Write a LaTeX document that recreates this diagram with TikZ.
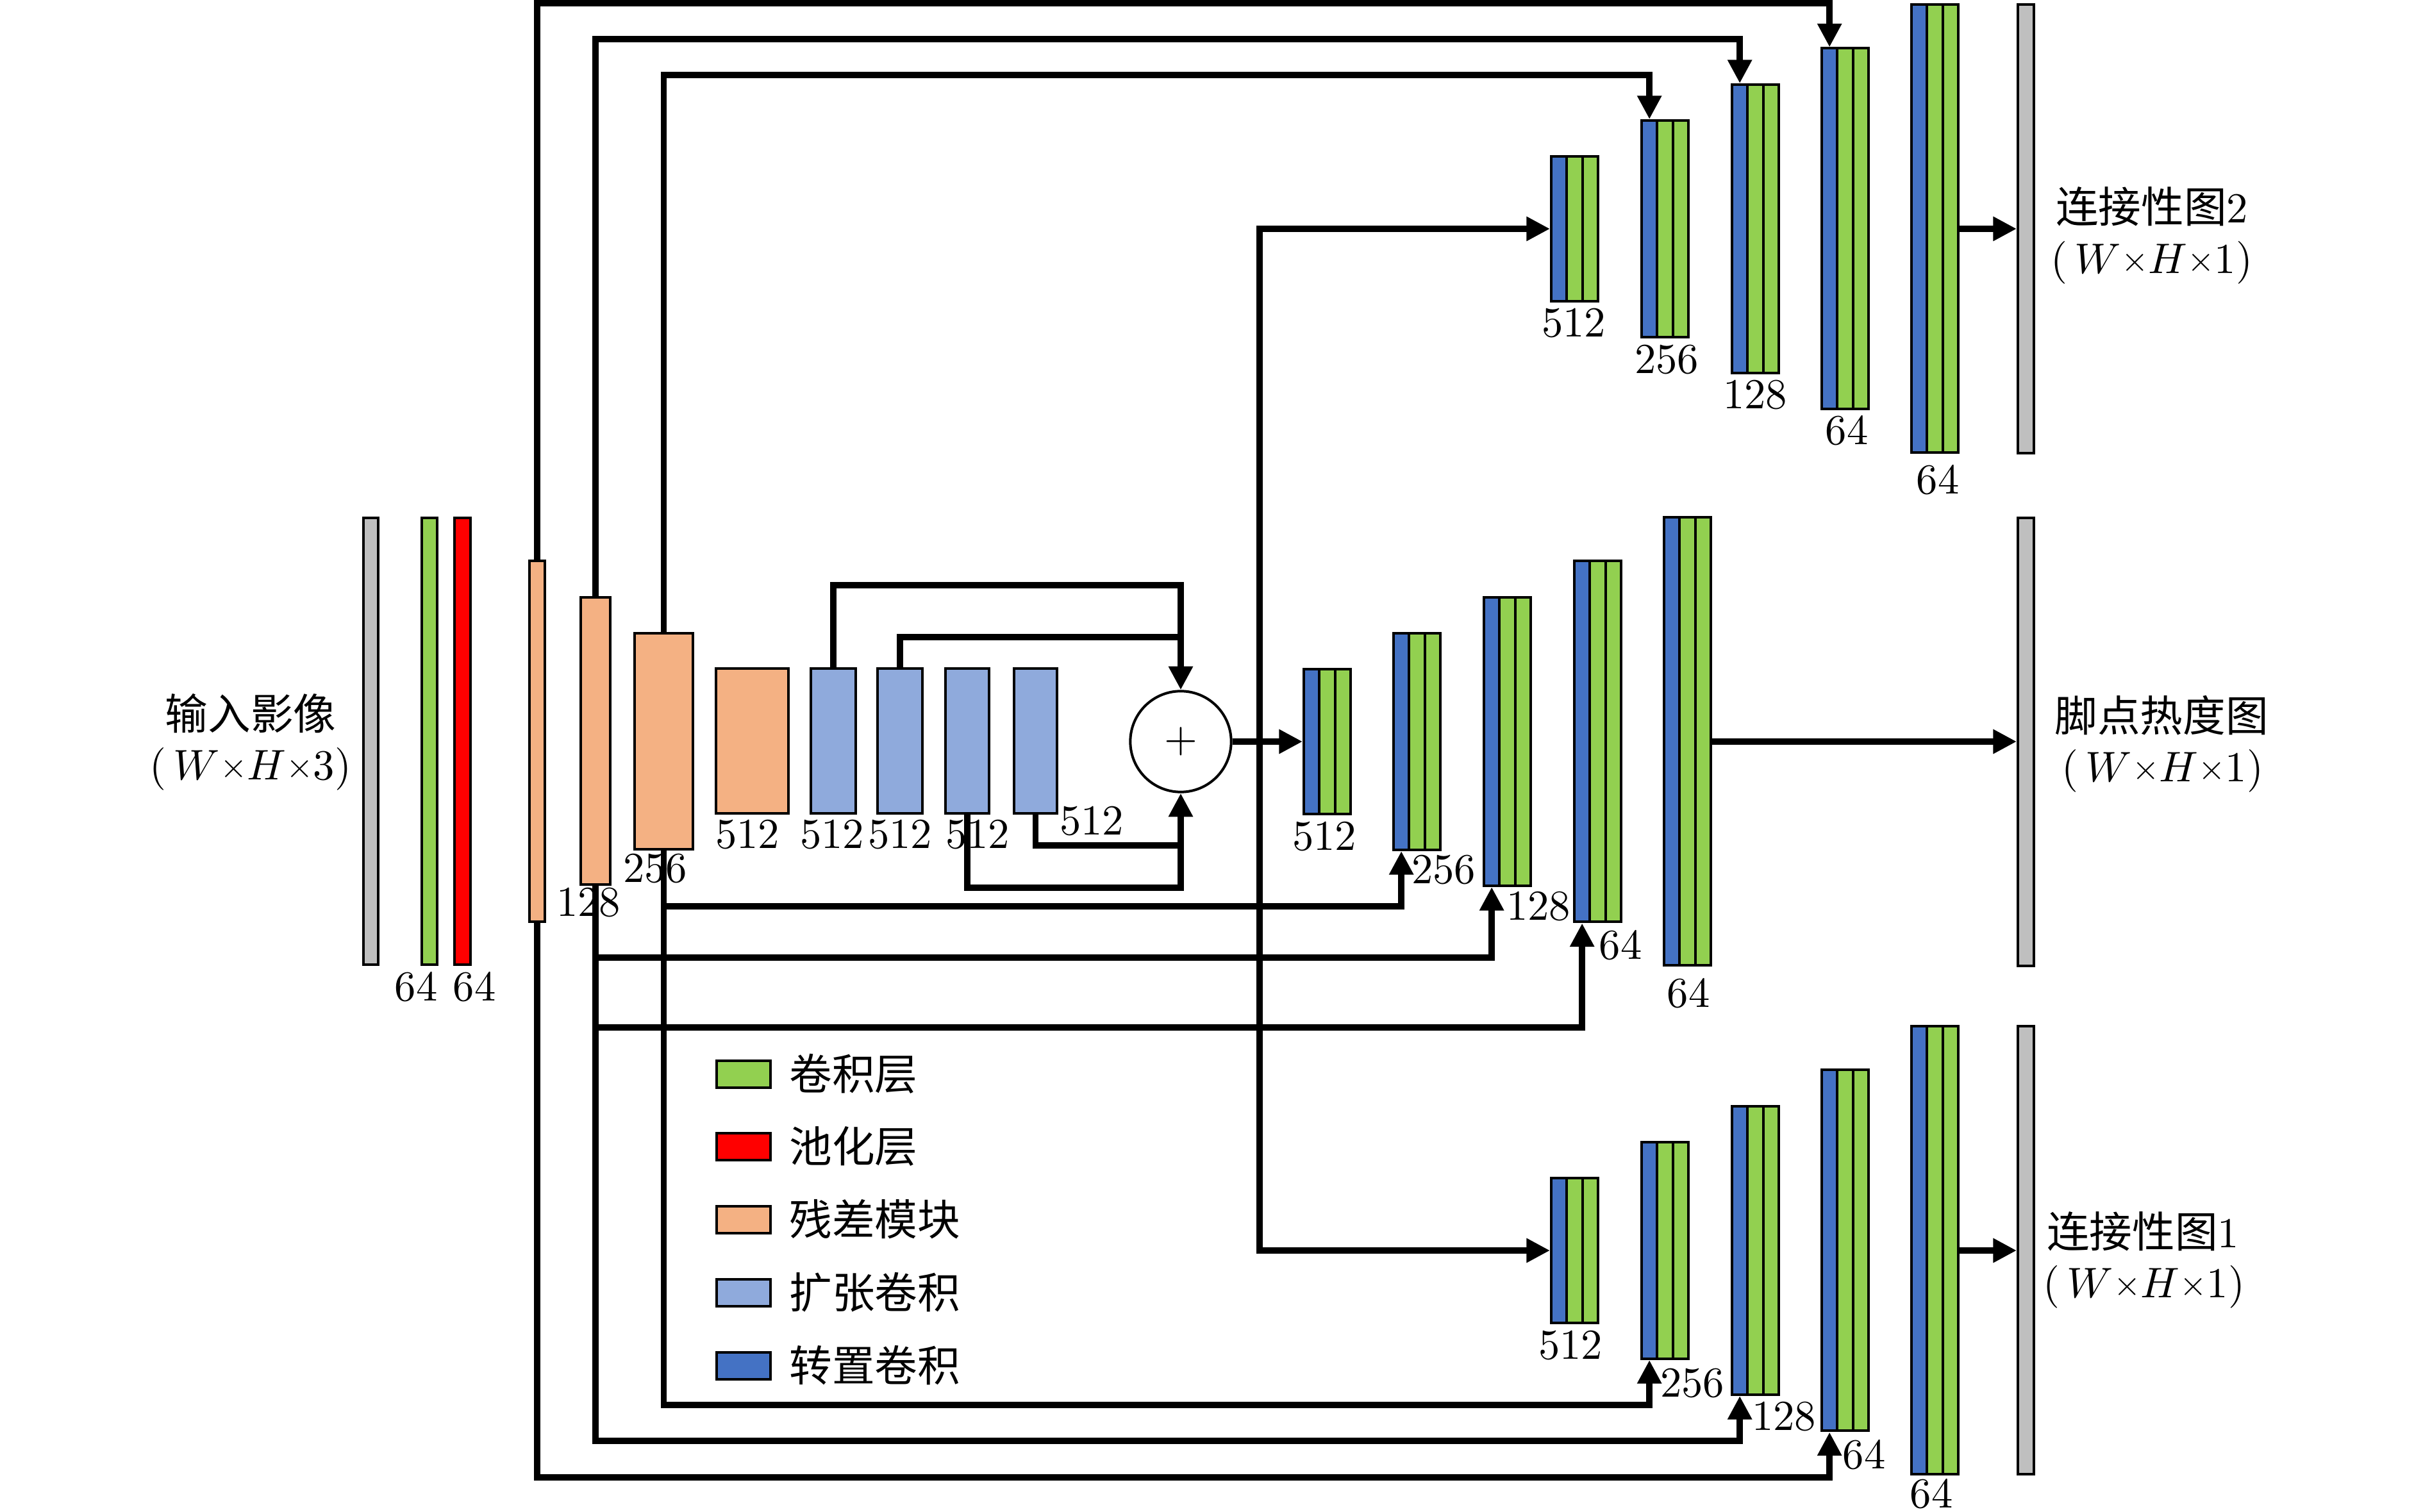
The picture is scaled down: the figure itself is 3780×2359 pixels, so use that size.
\documentclass[tikz,border=0pt]{standalone}
\usepackage{fontspec}
\newfontfamily\cjk{Noto Sans CJK SC}
\usetikzlibrary{arrows.meta,fit}
\definecolor{cgreen}{RGB}{146,208,80}
\definecolor{cred}{RGB}{255,0,0}
\definecolor{corange}{RGB}{244,177,131}
\definecolor{clblue}{RGB}{143,170,220}
\definecolor{cdblue}{RGB}{68,114,196}
\definecolor{cgrey}{RGB}{191,191,191}
\tikzset{
  lay/.style={draw=black,line width=0.6pt,inner sep=0pt},
  conn/.style={line width=1.43pt},
  arr/.style={conn,-{Triangle[length=5.5pt,width=5.4pt]}},
  num/.style={inner sep=0pt,font=\fontsize{10}{12}\selectfont},
  lbl/.style={inner sep=0pt,anchor=base,font=\fontsize{10}{12}\selectfont},
}
\newcommand\smtimes{\mathord{\raisebox{0.5pt}{\scalebox{0.82}{$\times$}}}}
\newcommand\dimtext[1]{$(\,W\smtimes H\smtimes #1)$}
% decoder block: name, left x, centre y, half height
\newcommand\deco[4]{%
  \pgfmathsetmacro\dcA{#2}\pgfmathsetmacro\dcB{#2+24.3}%
  \pgfmathsetmacro\dcC{#2+48.7}\pgfmathsetmacro\dcD{#2+73}%
  \pgfmathsetmacro\dcT{#3-#4}\pgfmathsetmacro\dcU{#3+#4}%
  \node[lay,fill=cdblue,fit={(\dcA,\dcT)(\dcB,\dcU)}] (#1-b) {};
  \node[lay,fill=cgreen,fit={(\dcB,\dcT)(\dcC,\dcU)}] (#1-g) {};
  \node[lay,fill=cgreen,fit={(\dcC,\dcT)(\dcD,\dcU)}] (#1-h) {};
  \node[inner sep=0pt,outer sep=0.3pt,fit={(\dcA,\dcT)(\dcD,\dcU)}] (#1) {};
}
\begin{document}
\begin{tikzpicture}[x={(0.15pt,0)},y={(0,-0.15pt)}]
\useasboundingbox (0,0) rectangle (3780,2359);

% ---------- encoder ----------
\node[lay,fill=cgrey,fit={(567,808)(590,1505)}] (inp) {};
\node[lay,fill=cgreen,fit={(658,808)(682,1505)}] (conv1) {};
\node[lay,fill=cred,fit={(709,808)(734,1505)}] (pool) {};
\node[lay,fill=corange,fit={(826,875)(850,1438)}] (o1) {};
\node[lay,fill=corange,fit={(906,932)(952,1380)}] (o2) {};
\node[lay,fill=corange,fit={(990,988)(1081,1325)}] (o3) {};
\node[lay,fill=corange,fit={(1117,1043)(1230,1269)}] (o4) {};
\node[lay,fill=clblue,fit={(1265,1043)(1335,1269)}] (d1) {};
\node[lay,fill=clblue,fit={(1369,1043)(1439,1269)}] (d2) {};
\node[lay,fill=clblue,fit={(1475,1043)(1543,1269)}] (d3) {};
\node[lay,fill=clblue,fit={(1582,1043)(1649,1269)}] (d4) {};
\node[draw,circle,line width=0.6pt,minimum size=23.6pt,inner sep=0pt] (sum) at (1842,1157) {$+$};

% ---------- decoders ----------
\deco{M512}{2034}{1157}{113}
\deco{M256}{2174}{1157}{169}
\deco{M128}{2315}{1157}{225}
\deco{M64}{2456}{1157}{281.5}
\deco{M64o}{2596}{1157}{349.5}

\deco{T512}{2420}{357}{113}
\deco{T256}{2561}{357}{169}
\deco{T128}{2702}{357}{225}
\deco{T64}{2842}{357}{281.5}
\deco{T64o}{2982}{357}{349.5}

\deco{B512}{2420}{1951}{113}
\deco{B256}{2561}{1951}{169}
\deco{B128}{2702}{1951}{225}
\deco{B64}{2842}{1951}{281.5}
\deco{B64o}{2982}{1951}{349.5}

\node[lay,fill=cgrey,fit={(3148,7)(3173,707)}] (outT) {};
\node[lay,fill=cgrey,fit={(3148,808)(3173,1507)}] (outM) {};
\node[lay,fill=cgrey,fit={(3148,1601)(3173,2300)}] (outB) {};

% ---------- levels ----------
\coordinate (yT1) at (0,5);
\coordinate (yT2) at (0,61);
\coordinate (yT3) at (0,117);
\coordinate (yM3) at (0,1414);
\coordinate (yM2) at (0,1494);
\coordinate (yM1) at (0,1603);
\coordinate (yB3) at (0,2192);
\coordinate (yB2) at (0,2248);
\coordinate (yB1) at (0,2305);
\coordinate (yL1) at (0,913);
\coordinate (yL2) at (0,994);
\coordinate (yL3) at (0,1319);
\coordinate (yL4) at (0,1385);
\coordinate (xV) at (1965,0);

% ---------- skip connections ----------
\draw[arr] (o1.north) -- (o1.north |- yT1) -| (T64-b.north);
\draw[arr] (o2.north) -- (o2.north |- yT2) -| (T128-b.north);
\draw[arr] (o3.north) -- (o3.north |- yT3) -| (T256-b.north);
\draw[arr] (o1.south) -- (o1.south |- yB1) -| (B64-b.south);
\draw[arr] (o2.south) -- (o2.south |- yB2) -| (B128-b.south);
\draw[arr] (o3.south) -- (o3.south |- yB3) -| (B256-b.south);
\draw[arr] (o3.south) -- (o3.south |- yM3) -| (M256-b.south);
\draw[arr] (o2.south) -- (o2.south |- yM2) -| (M128-b.south);
\draw[arr] (o2.south) -- (o2.south |- yM1) -| (M64-b.south);

% ---------- dilated block sums ----------
\draw[arr] (d1.north) -- (d1.north |- yL1) -| (sum.north);
\draw[conn] (d2.north) |- (sum.north |- yL2);
\draw[arr] (d4.south) -- (d4.south |- yL3) -| (sum.south);
\draw[conn] (d3.south) |- (sum.south |- yL4) -- (sum.south |- yL3);

\draw[arr] (sum.east) -- (M512.west);
\draw[arr] (sum.east -| xV) |- (T512.west);
\draw[arr] (sum.east -| xV) |- (B512.west);

% ---------- outputs ----------
\draw[arr] (M64o.east) -- (M64o.east -| outM.west);
\draw[arr] (T64o.east) -- (T64o.east -| outT.west);
\draw[arr] (B64o.east) -- (B64o.east -| outB.west);

% ---------- numbers ----------
\node[num] (n1) at (649,1540) {64};
\node[num] (n2) at (740,1540) {64};
\node[num] (n3) at (918,1408) {128};
\node[num] (n4) at (1022,1355) {256};
\node[num] (n5) at (1166,1302) {512};
\node[num] (n6) at (1298,1302) {512};
\node[num] (n7) at (1404,1302) {512};
\node[num] (n8) at (1525,1302) {512};
\node[num] (n9) at (1703,1281) {512};

\node[num] (nm1) at (2066,1305) {512};
\node[num] (nm2) at (2252,1357) {256};
\node[num] (nm3) at (2400,1414) {128};
\node[num] (nm4) at (2528,1475) {64};
\node[num] (nm5) at (2634,1550) {64};

\node[num] (nt1) at (2455,504) {512};
\node[num] (nt2) at (2600,561) {256};
\node[num] (nt3) at (2738,616) {128};
\node[num] (nt4) at (2881,672) {64};
\node[num] (nt5) at (3023,749) {64};

\node[num] (nb1) at (2450,2099) {512};
\node[num] (nb2) at (2640,2158) {256};
\node[num] (nb3) at (2783,2210) {128};
\node[num] (nb4) at (2908,2270) {64};
\node[num] (nb5) at (3013,2331) {64};

% ---------- captions ----------
\node[lbl] (inA) at (391,1139) {\cjk 输入影像};
\node[lbl] (inB) at (391,1217) {\dimtext{3}};
\node[lbl] (hmA) at (3372,1142) {\cjk 脚点热度图};
\node[lbl] (hmB) at (3374,1220) {\dimtext{1}};
\node[lbl] (c2A) at (3357,348) {{\cjk 连接性图}2};
\node[lbl] (c2B) at (3357,427) {\dimtext{1}};
\node[lbl] (c1A) at (3343,1947) {{\cjk 连接性图}1};
\node[lbl] (c1B) at (3345,2025) {\dimtext{1}};

% ---------- legend ----------
\node[lay,fill=cgreen,fit={(1118,1655)(1202,1697)}] (lg1) {};
\node[lay,fill=cred,fit={(1118,1768)(1202,1810)}] (lg2) {};
\node[lay,fill=corange,fit={(1118,1882)(1202,1924)}] (lg3) {};
\node[lay,fill=clblue,fit={(1118,1996)(1202,2038)}] (lg4) {};
\node[lay,fill=cdblue,fit={(1118,2110)(1202,2152)}] (lg5) {};
\node[lbl,anchor=base west] (lt1) at (1230,1701) {\cjk 卷积层};
\node[lbl,anchor=base west] (lt2) at (1230,1814) {\cjk 池化层};
\node[lbl,anchor=base west] (lt3) at (1230,1928) {\cjk 残差模块};
\node[lbl,anchor=base west] (lt4) at (1230,2042) {\cjk 扩张卷积};
\node[lbl,anchor=base west] (lt5) at (1230,2156) {\cjk 转置卷积};
\end{tikzpicture}
\end{document}
